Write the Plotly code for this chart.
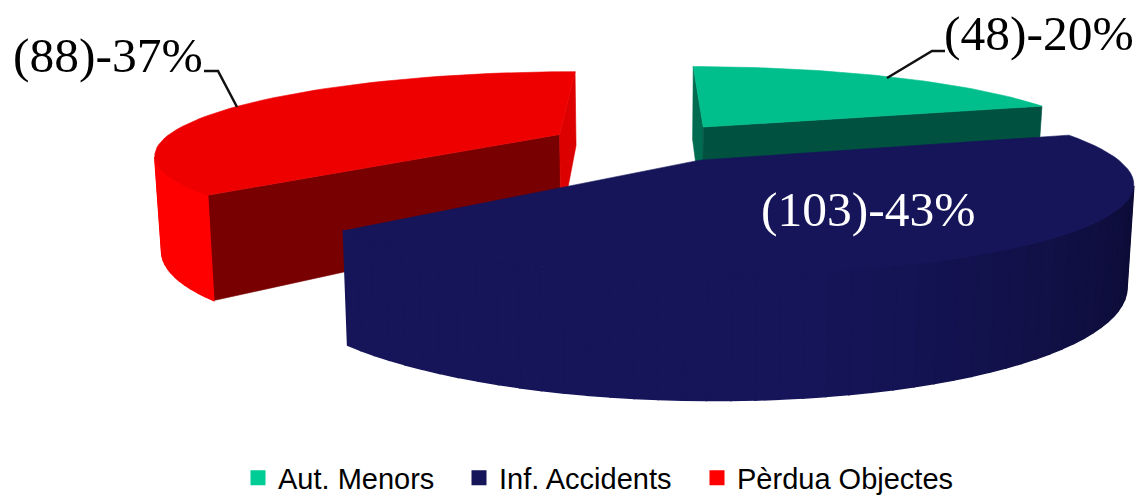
import numpy as np
import plotly.graph_objects as go

# --- data ---
categories = ["Aut. Menors", "Inf. Accidents", "Pèrdua Objectes"]
counts = [48, 103, 88]
percent_labels = ["(48)-20%", "(103)-43%", "(88)-37%"]

# --- styles ---
top_colors = ["#00BF8C", "#16155A", "#EE0000"]
legend_colors = ["#00CC96", "#16155A", "#FF0000"]
start_face_colors = ["#006B50", "#16155A", "#780000"]
end_face_colors = ["#005140", "#16155A", "#DD0000"]
wall_dark = ["#005140", "#0A0A2E", "#FF0000"]
wall_light = ["#005140", "#16155A", "#FF0000"]

# --- camera and solid ---
VX, VY = 646.0, -218.0   # vanishing point of the ground plane
FOCAL = 1800.0
RADIUS, HEIGHT, EXPLODE = 1.108, 0.255, 0.273
CX, CZ = 0.005, 4.996
LEAN = 0.014


def project(X, Z, drop=0.0):
    w = FOCAL / Z
    x = VX + X * w
    y = VY + (1.0 + drop) * w
    return x + (VX - x) * LEAN * (drop > 0), y


def polygon(points, color, width=0.6):
    xs = [p[0] for p in points] + [points[0][0]]
    ys = [p[1] for p in points] + [points[0][1]]
    return go.Scatter(x=xs, y=ys, mode="lines", fill="toself", fillcolor=color,
                      line=dict(color=color, width=width), hoverinfo="skip",
                      showlegend=False)


def mix(a, b, t):
    ca = [int(a[i:i + 2], 16) for i in (1, 3, 5)]
    cb = [int(b[i:i + 2], 16) for i in (1, 3, 5)]
    return "#%02X%02X%02X" % tuple(round(u + (v - u) * t) for u, v in zip(ca, cb))


fractions = np.array(counts, dtype=float) / sum(counts)
ends = np.cumsum(fractions) * 2 * np.pi
starts = np.concatenate([[0.0], ends[:-1]])

traces = []
for i in [0, 2, 1]:            # far slices first, the front slice last
    t0, t1 = starts[i], ends[i]
    mid = (t0 + t1) / 2
    ax = CX + EXPLODE * np.sin(mid)
    az = CZ + EXPLODE * np.cos(mid)
    angles = np.linspace(t0, t1, 61)
    rim = [(ax + RADIUS * np.sin(a), az + RADIUS * np.cos(a)) for a in angles]

    # straight cut faces, when they look towards the camera
    for a, normal, color in [(t0, (-np.cos(t0), np.sin(t0)), start_face_colors[i]),
                             (t1, (np.cos(t1), -np.sin(t1)), end_face_colors[i])]:
        if normal[0] * -ax + normal[1] * -az > 0:
            ox, oz = ax + RADIUS * np.sin(a), az + RADIUS * np.cos(a)
            traces.append(polygon([project(ax, az), project(ox, oz),
                                   project(ox, oz, HEIGHT), project(ax, az, HEIGHT)], color))

    # curved outer wall
    for k in range(len(angles) - 1):
        m = (angles[k] + angles[k + 1]) / 2
        p, q = rim[k], rim[k + 1]
        if np.sin(m) * -p[0] + np.cos(m) * -p[1] > 0:
            shade = np.clip((np.pi * 0.95 - m) / (np.pi * 0.42), 0, 1)
            traces.append(polygon([project(*p), project(*q),
                                   project(*q, HEIGHT), project(*p, HEIGHT)],
                                  mix(wall_light[i], wall_dark[i], shade), width=1.6))

    # top surface
    traces.append(polygon([project(ax, az)] + [project(*p) for p in rim], top_colors[i]))

# legend entries, one small legend each so that their spacing can be set
legend_ids = ["legend", "legend2", "legend3"]
legend_left = [238, 459, 697]
for name, color, lid in zip(categories, legend_colors, legend_ids):
    traces.append(go.Scatter(x=[None], y=[None], mode="markers", name=name, legend=lid,
                             marker=dict(symbol="square", size=15, color=color)))

fig = go.Figure(traces)
serif = "Liberation Serif"
annotations = [
    dict(x=1136, y=33, text=percent_labels[0], font=dict(color="#000000"), xanchor="right"),
    dict(x=977, y=209, text=percent_labels[1], font=dict(color="#FFFFFF"), xanchor="right"),
    dict(x=205, y=55, text=percent_labels[2], font=dict(color="#000000"), xanchor="right"),
]
for a in annotations:
    a["font"].update(family=serif, size=49.5)
    a.update(xref="x", yref="y", yanchor="middle", showarrow=False)

leaders = [
    [(887, 78), (932, 51), (945, 51)],
    [(237, 107), (218, 71), (204, 71)],
]
shapes = []
for leader in leaders:
    path = "M " + " L ".join(f"{x},{y}" for x, y in leader)
    shapes.append(dict(type="path", path=path, xref="x", yref="y",
                       line=dict(color="#111111", width=2.5)))

legend_layout = {
    lid: dict(x=left / 1142, y=1 - 478 / 497, xanchor="left", yanchor="middle",
              font=dict(family="Liberation Sans", size=29, color="#000000"),
              bgcolor="rgba(0,0,0,0)", itemwidth=30)
    for lid, left in zip(legend_ids, legend_left)
}

fig.update_layout(
    width=1142, height=497, margin=dict(l=0, r=0, t=0, b=0, autoexpand=False),
    paper_bgcolor="#FFFFFF", plot_bgcolor="#FFFFFF",
    xaxis=dict(range=[0, 1142], visible=False, fixedrange=True),
    yaxis=dict(range=[497, 0], visible=False, fixedrange=True),
    annotations=annotations, shapes=shapes,
    showlegend=True,
    **legend_layout,
)
fig.write_html("out.html", config=dict(displayModeBar=False),
               post_script="document.body.style.margin='0';document.body.style.overflow='hidden';")
